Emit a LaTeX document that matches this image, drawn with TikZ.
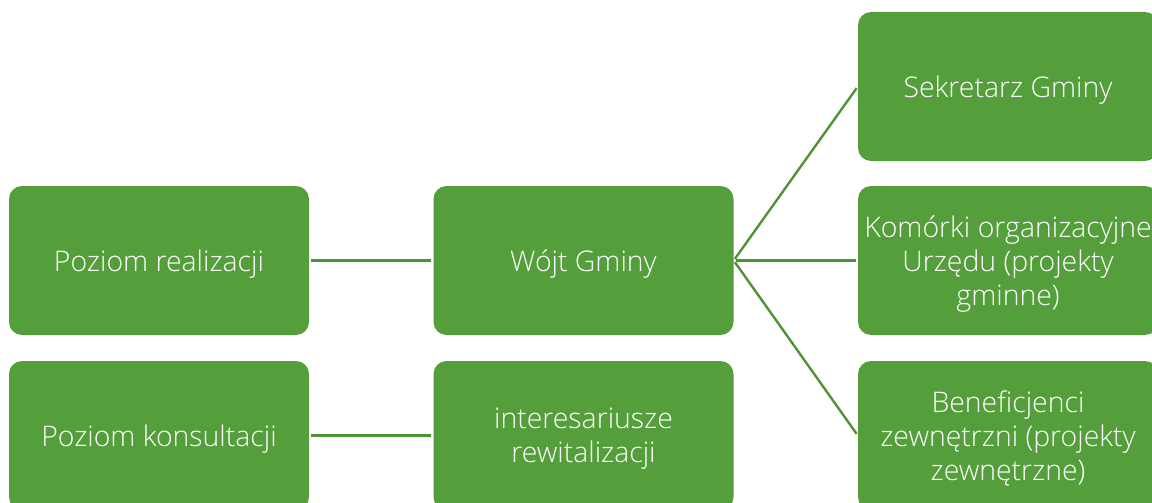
\documentclass[tikz,border=0pt]{standalone}
\usepackage{fontspec}
\setmainfont{Open Sans Light}
\definecolor{boxgreen}{RGB}{84,158,59}
\definecolor{linegreen}{RGB}{78,148,54}
\begin{document}
\begin{tikzpicture}[x=1pt,y=-1pt,
  gbox/.style={rectangle, rounded corners=13pt, fill=boxgreen, text=white,
    minimum width=300pt, minimum height=149pt, inner sep=0pt, align=center,
    text depth=0pt, font=\fontsize{28.4}{34.3}\selectfont},
  conn/.style={draw=linegreen, line width=2.4pt, shorten <=2pt, shorten >=2pt}]
\clip (0,0) rectangle (1152,503);
\node[gbox] (real) at (159,260.5) {Poziom realizacji};
\node[gbox] (wojt) at (583.5,260.5) {Wójt Gminy};
\node[gbox] (sek) at (1008,86.5) {Sekretarz Gminy};
\node[gbox] (kom) at (1008,260.5) {Komórki organizacyjne\\Urzędu (projekty\\gminne)};
\node[gbox] (ben) at (1008,435.5) {Beneficjenci\\zewnętrzni (projekty\\zewnętrzne)};
\node[gbox] (kons) at (159,435.5) {Poziom konsultacji};
\node[gbox] (inter) at (583.5,435.5) {interesariusze\\rewitalizacji};
\draw[conn] (real.east) -- (wojt.west);
\draw[conn] (kons.east) -- (inter.west);
\draw[conn] (wojt.east) -- (sek.west);
\draw[conn] (wojt.east) -- (kom.west);
\draw[conn] (wojt.east) -- (ben.west);
\end{tikzpicture}
\end{document}
